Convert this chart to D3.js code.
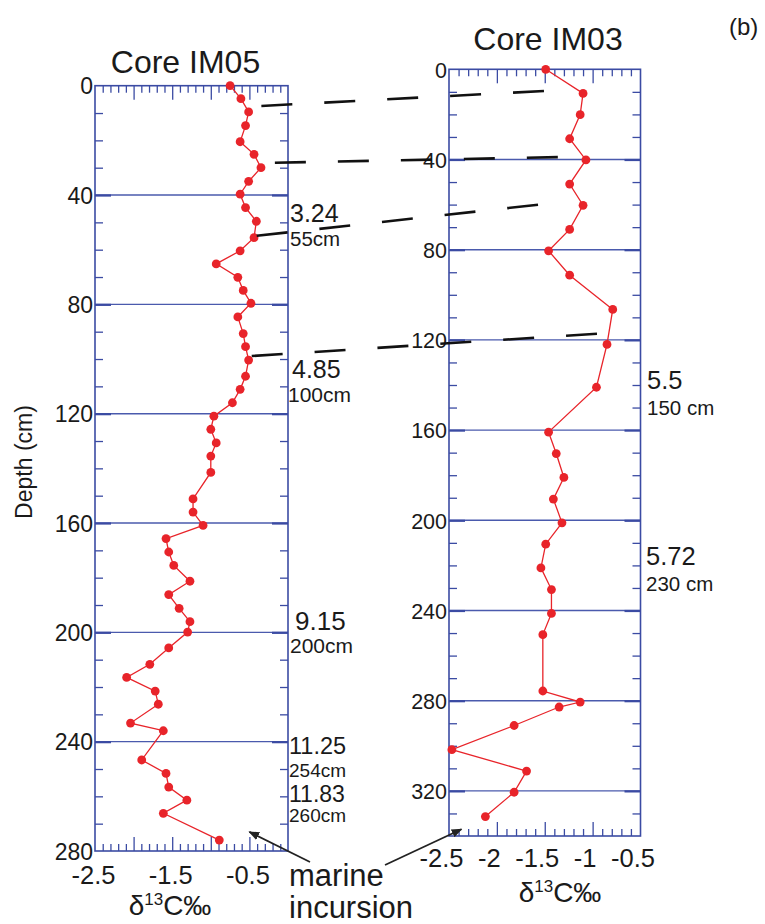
<!DOCTYPE html>
<html>
<head>
<meta charset="utf-8">
<script src="https://cdn.jsdelivr.net/npm/d3@7"></script>
<style>
body { margin: 0; background: #fff; }
svg text { font-family: "Liberation Sans", Arial, Helvetica, sans-serif; fill: #1a1a1a; }
</style>
</head>
<body>
<div id="vis"></div>
<script>
// core IM05 (left)
var im05Depth = [0, 4.75, 9.6, 14.6, 20.5, 25.1, 30, 35, 39.7, 44.6, 49.6, 55.6, 60.4, 65.2, 70.1, 74.9, 79.6,
	84.6, 90.7, 95.5, 100.4, 106.3, 111.1, 116, 120.9, 125.7, 130.7, 135.5, 141.5, 151.2, 156, 160.9,
	165.7, 170.6, 175.5, 181.3, 186.2, 191.2, 196.1, 199.9, 205.7, 211.7, 216.5, 221.5, 226.3, 233.2,
	236, 246.7, 251.6, 256.6, 261.4, 266.2, 276];
var im05Value = [-0.75, -0.61, -0.51, -0.55, -0.62, -0.44, -0.35, -0.51, -0.62, -0.55, -0.41, -0.44, -0.62, -0.93, -0.65, -0.58, -0.48,
	-0.65, -0.58, -0.55, -0.51, -0.55, -0.62, -0.72, -0.96, -1.0, -0.93, -1.0, -1.0, -1.23, -1.23, -1.1,
	-1.58, -1.545, -1.48, -1.27, -1.545, -1.41, -1.27, -1.30, -1.545, -1.79, -2.09, -1.72, -1.68, -2.04,
	-1.615, -1.895, -1.58, -1.545, -1.31, -1.615, -0.89];

// core IM03 (right)
var im03Depth = [0, 10.7, 20.1, 30.8, 40.2, 50.9, 60.3, 71, 80.5, 91.3, 106.5, 122, 141, 160.9, 170.4, 181,
	190.6, 201.1, 210.6, 221.1, 230.7, 241.3, 250.7, 275.7, 280.6, 282.8, 291, 301.7, 311.2, 320.6, 331.4];
var im03Value = [-1.49, -1.10, -1.13, -1.24, -1.07, -1.24, -1.10, -1.24, -1.46, -1.24, -0.79, -0.85, -0.96, -1.46, -1.38, -1.30,
	-1.41, -1.32, -1.49, -1.54, -1.43, -1.43, -1.52, -1.52, -1.13, -1.35, -1.82, -2.47, -1.69, -1.82, -2.12];

// correlation ties between the cores
var tieLeftDepth  = [7.4, 28.2, 54.9, 98.9];
var tieLeftValue  = [-0.345, -0.17, -0.405, -0.47];
var tieRightDepth = [9.5, 38.9, 59.8, 117.1];
var tieRightValue = [-1.46, -1.306, -1.515, -0.904];

// ticks
var im05DepthTicks = [0, 40, 80, 120, 160, 200, 240, 280];
var im03DepthTicks = [0, 40, 80, 120, 160, 200, 240, 280, 320];
var im05ValueTicks = [-2.5, -1.5, -0.5];
var im03ValueTicks = [-2.5, -2, -1.5, -1, -0.5];

// ages
var im05Ages = ["3.24", "4.85", "9.15", "11.25", "11.83"];
var im05AgeDepths = ["55cm", "100cm", "200cm", "254cm", "260cm"];
var im03Ages = ["5.5", "5.72"];
var im03AgeDepths = ["150 cm", "230 cm"];

var width = 765, height = 924;
var BLUE = "#3b4ba3";
var RED = "#e8242a";

var svg = d3.select('#vis').append('svg')
	.attr('width', width)
	.attr('height', height);

var panels = [
	{ title: "Core IM05", depth: im05Depth, value: im05Value, depthTicks: im05DepthTicks, valueTicks: im05ValueTicks,
	  x0: 95, x1: 288, y0: 85.7, y1: 851, xDom: [-2.5, 0], yDom: [0, 280],
	  titleX: 185.5, titleY: 73, yFont: 23, labelDx: -2, labelY: 884, xTitleX: 170, xTitleY: 915 },
	{ title: "Core IM03", depth: im03Depth, value: im03Value, depthTicks: im03DepthTicks, valueTicks: im03ValueTicks,
	  x0: 449, x1: 640.5, y0: 69.3, y1: 836, xDom: [-2.5, -0.5], yDom: [0, 340],
	  titleX: 548, titleY: 50, yFont: 21.5, labelDx: -8, labelY: 867, xTitleX: 560, xTitleY: 902 }
];

function styleTicks(sel) {
	sel.select(".domain").remove();
	sel.selectAll(".tick line").attr("stroke", BLUE).attr("stroke-width", 1.3);
}

panels.forEach(function (p) {
	p.x = d3.scaleLinear().domain(p.xDom).range([p.x0, p.x1]);
	p.y = d3.scaleLinear().domain(p.yDom).range([p.y0, p.y1]);
	var g = svg.append("g");

	var nX = Math.round((p.xDom[1] - p.xDom[0]) / 0.1);
	var xAll = d3.range(0, nX + 1).map(function (i) { return +(p.xDom[0] + i * 0.1).toFixed(1); });
	var xMajor = xAll.filter(function (v, i) { return i % 5 === 0 && i > 0 && i < nX; });
	var xMinor = xAll.filter(function (v, i) { return i % 5 !== 0; });
	var yAll = d3.range(p.yDom[0] + 10, p.yDom[1], 10);
	var yMinor = yAll.filter(function (v) { return v % 40 !== 0; });
	var yMajor = yAll.filter(function (v) { return v % 40 === 0; });

	// gridlines
	g.selectAll(".grid").data(yMajor).enter().append("line")
		.attr("x1", p.x0).attr("x2", p.x1)
		.attr("y1", function (d) { return p.y(d); })
		.attr("y2", function (d) { return p.y(d); })
		.attr("stroke", "#4a5aad").attr("stroke-width", 1.4);

	// top / bottom ticks
	g.append("g").attr("transform", "translate(0," + p.y0 + ")")
		.call(d3.axisBottom(p.x).tickValues(xMinor).tickSize(7).tickFormat("")).call(styleTicks);
	g.append("g").attr("transform", "translate(0," + p.y0 + ")")
		.call(d3.axisBottom(p.x).tickValues(xMajor).tickSize(14).tickFormat("")).call(styleTicks);
	g.append("g").attr("transform", "translate(0," + p.y1 + ")")
		.call(d3.axisTop(p.x).tickValues(xMinor).tickSize(7).tickFormat("")).call(styleTicks);
	g.append("g").attr("transform", "translate(0," + p.y1 + ")")
		.call(d3.axisTop(p.x).tickValues(xMajor).tickSize(14).tickFormat("")).call(styleTicks);

	// left / right ticks
	g.append("g").attr("transform", "translate(" + p.x0 + ",0)")
		.call(d3.axisRight(p.y).tickValues(yMinor).tickSize(8).tickFormat("")).call(styleTicks);
	g.append("g").attr("transform", "translate(" + p.x1 + ",0)")
		.call(d3.axisLeft(p.y).tickValues(yMinor).tickSize(8).tickFormat("")).call(styleTicks);
	g.append("g").attr("transform", "translate(" + p.x0 + ",0)")
		.call(d3.axisRight(p.y).tickValues(yMajor).tickSize(16).tickFormat("")).call(styleTicks)
		.selectAll(".tick line").attr("stroke-width", 2.2);
	g.append("g").attr("transform", "translate(" + p.x1 + ",0)")
		.call(d3.axisLeft(p.y).tickValues(yMajor).tickSize(16).tickFormat("")).call(styleTicks)
		.selectAll(".tick line").attr("stroke-width", 2.2);

	// frame
	g.append("rect")
		.attr("x", p.x0).attr("y", p.y0)
		.attr("width", p.x1 - p.x0).attr("height", p.y1 - p.y0)
		.attr("fill", "none").attr("stroke", BLUE).attr("stroke-width", 1.6);

	// depth labels
	var ya = g.append("g").attr("transform", "translate(" + (p.x0 - 2) + ",0)")
		.call(d3.axisLeft(p.y).tickValues(p.depthTicks).tickSize(0).tickPadding(0)
			.tickFormat(function (d) { return String(d); }));
	ya.select(".domain").remove();
	ya.attr("font-family", null).attr("font-size", null);
	ya.selectAll("text").style("font-size", p.yFont + "px").attr("dy", "0.36em");

	// value labels
	var xa = g.append("g").attr("transform", "translate(0," + p.y1 + ")")
		.call(d3.axisBottom(p.x).tickValues(p.valueTicks).tickSize(0)
			.tickFormat(function (d) { return String(d); }));
	xa.select(".domain").remove();
	xa.attr("font-family", null).attr("font-size", null);
	xa.selectAll("text").style("font-size", "25.5px")
		.attr("dx", p.labelDx).attr("dy", 0).attr("y", p.labelY - p.y1);

	// title
	g.append("text").attr("x", p.titleX).attr("y", p.titleY)
		.attr("text-anchor", "middle").style("font-size", "32px").text(p.title);

	// axis title
	var t = g.append("text").attr("x", p.xTitleX).attr("y", p.xTitleY)
		.attr("text-anchor", "middle").style("font-size", "28px");
	t.append("tspan").text("δ");
	t.append("tspan").attr("dy", -10).style("font-size", "17px").text("13");
	t.append("tspan").attr("dy", 10).text("C‰");

	// series
	var pts = p.depth.map(function (d, i) { return [p.value[i], d]; });
	g.append("path").datum(pts)
		.attr("fill", "none").attr("stroke", RED).attr("stroke-width", 1.3)
		.attr("d", d3.line().x(function (d) { return p.x(d[0]); }).y(function (d) { return p.y(d[1]); }));
	g.selectAll(".dot").data(pts).enter().append("circle")
		.attr("cx", function (d) { return p.x(d[0]); })
		.attr("cy", function (d) { return p.y(d[1]); })
		.attr("r", 4.4).attr("fill", RED);
});

var L = panels[0], R = panels[1];

// dashed correlation ties
svg.selectAll(".tie").data(tieLeftDepth).enter().append("line")
	.attr("x1", function (d, i) { return L.x(tieLeftValue[i]); })
	.attr("y1", function (d, i) { return L.y(tieLeftDepth[i]); })
	.attr("x2", function (d, i) { return R.x(tieRightValue[i]); })
	.attr("y2", function (d, i) { return R.y(tieRightDepth[i]); })
	.attr("stroke", "#111").attr("stroke-width", 2.6)
	.attr("stroke-dasharray", "31,32");

// age annotations
var leftAgePos = [[290, 222, 290, 246], [292, 378, 288, 402], [295, 630, 290, 653], [289, 754, 289, 777], [289, 802, 289, 822]];
var ageSize = [25, 25, 26, 23.5, 23];
var cmSize = [20.5, 21, 21, 19, 19];
im05Ages.forEach(function (a, i) {
	var q = leftAgePos[i];
	svg.append("text").attr("x", q[0]).attr("y", q[1]).style("font-size", ageSize[i] + "px").text(a);
	svg.append("text").attr("x", q[2]).attr("y", q[3]).style("font-size", cmSize[i] + "px").text(im05AgeDepths[i]);
});
var rightAgePos = [[647, 389, 647, 415], [646, 565, 646, 591]];
im03Ages.forEach(function (a, i) {
	var q = rightAgePos[i];
	svg.append("text").attr("x", q[0]).attr("y", q[1]).style("font-size", "25.5px").text(a);
	svg.append("text").attr("x", q[2]).attr("y", q[3]).style("font-size", "20.5px").text(im03AgeDepths[i]);
});

// depth axis title
svg.append("text")
	.attr("transform", "translate(32,462) rotate(-90)")
	.attr("text-anchor", "middle").style("font-size", "23px").text("Depth (cm)");

// panel tag
svg.append("text").attr("x", 729).attr("y", 35).style("font-size", "24px").text("(b)");

// marine incursion
svg.append("defs").append("marker")
	.attr("id", "arr").attr("viewBox", "0 0 10 10").attr("refX", 9).attr("refY", 5)
	.attr("markerWidth", 6).attr("markerHeight", 6).attr("orient", "auto")
	.append("path").attr("d", "M0,1 L10,5 L0,9 Z").attr("fill", "#222");
svg.append("line").attr("x1", 310).attr("y1", 862).attr("x2", L.x(-0.5)).attr("y2", L.y(273))
	.attr("stroke", "#222").attr("stroke-width", 1.8).attr("marker-end", "url(#arr)");
svg.append("line").attr("x1", 385).attr("y1", 865).attr("x2", R.x(-2.37)).attr("y2", R.y(337))
	.attr("stroke", "#222").attr("stroke-width", 1.8).attr("marker-end", "url(#arr)");
svg.append("text").attr("x", 289).attr("y", 886).style("font-size", "31px").text("marine");
svg.append("text").attr("x", 289).attr("y", 918).style("font-size", "31px").text("incursion");
</script>
</body>
</html>
